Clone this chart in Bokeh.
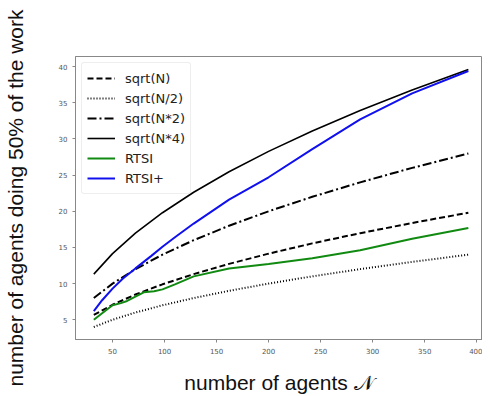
from bokeh.plotting import figure
from bokeh.models import Legend, LegendItem, FixedTicker
from bokeh.embed import file_html
from bokeh.resources import INLINE

# data
n_grid = [32, 50, 72, 98, 128, 162, 200, 242, 288, 338, 392]
sqrt_n = [5.66, 7.07, 8.49, 9.90, 11.31, 12.73, 14.14, 15.56, 16.97, 18.38, 19.80]
sqrt_n_half = [4.0, 5.0, 6.0, 7.0, 8.0, 9.0, 10.0, 11.0, 12.0, 13.0, 14.0]
sqrt_n_x2 = [8.0, 10.0, 12.0, 14.0, 16.0, 18.0, 20.0, 22.0, 24.0, 26.0, 28.0]
sqrt_n_x4 = [11.31, 14.14, 16.97, 19.80, 22.63, 25.46, 28.28, 31.11, 33.94, 36.77, 39.60]

rtsi_n = [32, 40, 50, 58, 64, 72, 80, 90, 98, 110, 128, 162, 200, 242, 288, 338, 392]
rtsi = [5.0, 5.9, 7.0, 7.3, 7.6, 8.2, 8.8, 8.95, 9.2, 9.9, 11.0, 12.1, 12.7, 13.5, 14.6, 16.2, 17.7]

rtsi_plus_n = [32, 40, 50, 60, 72, 87, 98, 110, 128, 162, 200, 242, 288, 338, 392]
rtsi_plus = [6.2, 7.7, 9.3, 10.7, 12.1, 13.8, 15.1, 16.4, 18.3, 21.6, 24.7, 28.6, 32.7, 36.3, 39.4]

x_ticks = [50, 100, 150, 200, 250, 300, 350, 400]
y_ticks = [5, 10, 15, 20, 25, 30, 35, 40]

p = figure(width=482, height=396, output_backend="svg", toolbar_location=None,
           x_range=(14.4, 405.6), y_range=(2.27, 41.4),
           min_border_left=65, min_border_top=56, min_border_bottom=54, min_border_right=0)

p.xgrid.visible = False
p.ygrid.visible = False
p.outline_line_color = "#888888"
p.outline_line_width = 1

for ax in (p.xaxis[0], p.yaxis[0]):
    ax.axis_line_color = "#888888"
    ax.major_tick_line_color = "#888888"
    ax.minor_tick_line_color = None
    ax.major_tick_out = 3
    ax.major_tick_in = 0
    ax.major_label_standoff = 5
    ax.major_label_text_font = "DejaVu Sans"
    ax.major_label_text_font_size = "7px"
    ax.major_label_text_color = "#555555"
    ax.axis_label_text_font = "Liberation Sans"
    ax.axis_label_text_font_size = "21px"
    ax.axis_label_text_font_style = "normal"
    ax.axis_label_text_color = "#111111"

p.xaxis.ticker = FixedTicker(ticks=x_ticks)
p.yaxis.ticker = FixedTicker(ticks=y_ticks)
p.xaxis.axis_label = "number of agents \U0001D4A9"
p.yaxis.axis_label = "number of agents doing 50% of the work"
p.xaxis.axis_label_standoff = 14
p.yaxis.axis_label_standoff = 29

r1 = p.line(n_grid, sqrt_n, line_color="black", line_width=2, line_dash="6 3")
r2 = p.line(n_grid, sqrt_n_half, line_color="black", line_width=2, line_dash="1 2")
r3 = p.line(n_grid, sqrt_n_x2, line_color="black", line_width=2, line_dash="9 3 2 3")
r4 = p.line(n_grid, sqrt_n_x4, line_color="black", line_width=1.6)
r5 = p.line(rtsi_n, rtsi, line_color="#118a11", line_width=2)
r6 = p.line(rtsi_plus_n, rtsi_plus, line_color="#1010ee", line_width=2)

legend = Legend(items=[
    LegendItem(label="sqrt(N)", renderers=[r1]),
    LegendItem(label="sqrt(N/2)", renderers=[r2]),
    LegendItem(label="sqrt(N*2)", renderers=[r3]),
    LegendItem(label="sqrt(N*4)", renderers=[r4]),
    LegendItem(label="RTSI", renderers=[r5]),
    LegendItem(label="RTSI+", renderers=[r6]),
], location="top_left")
legend.margin = 6
legend.padding = 5
legend.spacing = 0
legend.glyph_width = 28
legend.glyph_height = 20
legend.label_height = 20
legend.label_standoff = 10
legend.label_text_font = "DejaVu Sans"
legend.label_text_font_size = "13px"
legend.label_text_color = "#222222"
legend.border_line_color = "#dddddd"
legend.border_line_width = 1
legend.border_radius = 3
legend.background_fill_alpha = 0.9
p.add_layout(legend)

open("out.html", "w").write(file_html(p, INLINE))
